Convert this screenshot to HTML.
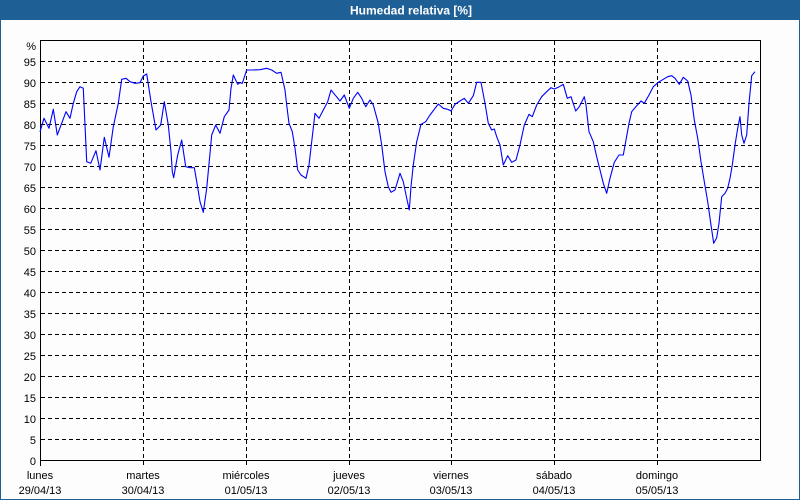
<!DOCTYPE html>
<html><head><meta charset="utf-8"><style>
html,body{margin:0;padding:0;background:#fff;}
svg{display:block;}
text{font-family:"Liberation Sans",Arial,sans-serif;}
</style></head><body>
<svg width="800" height="500" viewBox="0 0 800 500" xmlns="http://www.w3.org/2000/svg">
<rect x="0" y="0" width="800" height="500" fill="#fdfdfd"/>
<rect x="0" y="0" width="800" height="20" fill="#1e5f95"/>
<rect x="0" y="0" width="1" height="500" fill="#1e5f95"/>
<rect x="799" y="0" width="1" height="500" fill="#1e5f95"/>
<rect x="0" y="499" width="800" height="1" fill="#1e5f95"/>
<text x="350" y="14.5" font-size="12" font-weight="bold" fill="#ffffff">Humedad relativa [%]</text>

<g stroke="#000" stroke-width="1" stroke-dasharray="4,3" fill="none">
<line x1="41" y1="439.5" x2="760" y2="439.5"/>
<line x1="41" y1="418.5" x2="760" y2="418.5"/>
<line x1="41" y1="397.5" x2="760" y2="397.5"/>
<line x1="41" y1="376.5" x2="760" y2="376.5"/>
<line x1="41" y1="355.5" x2="760" y2="355.5"/>
<line x1="41" y1="334.5" x2="760" y2="334.5"/>
<line x1="41" y1="313.5" x2="760" y2="313.5"/>
<line x1="41" y1="292.5" x2="760" y2="292.5"/>
<line x1="41" y1="271.5" x2="760" y2="271.5"/>
<line x1="41" y1="250.5" x2="760" y2="250.5"/>
<line x1="41" y1="229.5" x2="760" y2="229.5"/>
<line x1="41" y1="208.5" x2="760" y2="208.5"/>
<line x1="41" y1="187.5" x2="760" y2="187.5"/>
<line x1="41" y1="166.5" x2="760" y2="166.5"/>
<line x1="41" y1="145.5" x2="760" y2="145.5"/>
<line x1="41" y1="124.5" x2="760" y2="124.5"/>
<line x1="41" y1="103.5" x2="760" y2="103.5"/>
<line x1="41" y1="82.5" x2="760" y2="82.5"/>
<line x1="41" y1="61.5" x2="760" y2="61.5"/>
<line x1="143.5" y1="41" x2="143.5" y2="466"/>
<line x1="246.5" y1="41" x2="246.5" y2="466"/>
<line x1="349.5" y1="41" x2="349.5" y2="466"/>
<line x1="451.5" y1="41" x2="451.5" y2="466"/>
<line x1="554.5" y1="41" x2="554.5" y2="466"/>
<line x1="657.5" y1="41" x2="657.5" y2="466"/>
</g>
<rect x="40.5" y="40.5" width="720" height="420" fill="none" stroke="#000" stroke-width="1"/>
<line x1="40.5" y1="40" x2="40.5" y2="466" stroke="#000" stroke-width="1"/>

<polyline fill="none" stroke="#0000ff" stroke-width="1.1" stroke-linejoin="round" points="
40,131.7 44,118.3 49,128.3 53.3,109.3 57.3,135 66,111.7 70,118.3 73.3,103.3 76.7,91.7 80,86.7 83.3,88.3 86.7,161.7 90.7,163.3 96,150.7 100,170 104.3,137.3 109,157.3 113.3,126.7 118.3,103.3 121.7,79.3 126,78.3 130,81.7 135,83.3 140,82.7 143.3,76 146.7,74 151,101.7 156,130 160.7,125 164.3,101.7
168.3,125 171,151.7 172.3,171.7 173.7,177.7 175,170 177.7,155 181.7,140 185.7,166.7 190,167.7 194.3,167.7 197.3,185 200,201.7 203.3,212.3 206.7,188.3 210,153.3 211.7,135 215.7,125 220,133.3 224.3,116.7 229,110 231,88.3 233.3,75 237.7,84.3 240,82.7 242.3,83.3 246.7,70 251.7,70 260,69.7 266.7,68.3 271.7,70 276.7,73.3 281,72.3
285,90 286.7,105 289,123.3 292.3,131.7 295,148.3 297.7,170 301,175 306,178.3 309,165 311.7,141.7 315,113.3 319,118.3 323.3,110 327.7,101.7 331,90 335.7,95.7 340,101 344.3,95 349.3,108.3 353.3,98.3 357.7,92.3 361.7,98.3 365.7,106.7 370,100 373.3,105 378.3,123.3 381.7,145 385,171.7 388.3,186.7 391,192.3 395,190 400,173.3 403.3,181.7 406.7,198.3 409.3,210
411,186.7 413.3,165 416.7,141.7 421,124.3 425.7,121.7 430,115 434.3,109.3 438.3,104 443.3,108.3 447.7,109.3 451,111 455,104.3 460,101 464.3,98.3 468.3,103.3 473.3,95.7 476.7,82.3 481,82.3 485,103.3 488.3,123.3 491.7,130 494.3,129 496.7,136.7 500,145 503.3,165 507.7,155.7 511.7,162.3 516,160 520,145 524.3,125
529,114.3 532.3,116.7 536.7,105 541.7,96.7 546.7,91.7 551,87.7 554.3,89 558.3,87.3 563.3,84.3 567.3,98.3 571,96.7 575.7,111 579.3,106.7 584.3,96.7 586,105 589,131.7 593.3,141.7 596.7,156.7 600,170 603.3,183.3 606.7,193.3 610,178.3 614.3,162.3 619,155 623.3,155 625.7,141.7 629,123.3 631.7,111.7 636.7,105.7 641,101 644.3,103.3
649,95 653.3,86.7 658.3,82.3 663.3,79.3 667.7,76.7 671.7,75.7 675,78.3 679.3,84.3 683.3,77.3 687.7,81 691,95 694.3,120 697.7,138.3 701,161.7 704.3,181.7 707.7,201.7 711,225 713.7,243.3 716.7,237.7 719,223.3 721.7,196.7 725,193.3 727.7,188.3 730,178.3 732.3,165 735,145 737.7,128.3 740,116.7 741.7,135 744,143.3 746.7,135 749,103.3 751.7,75.7 755,71.7"/>

<g font-size="11" fill="#000" text-anchor="end">
<text x="36" y="50">%</text>
<text x="36" y="66">95</text>
<text x="36" y="87">90</text>
<text x="36" y="108">85</text>
<text x="36" y="129">80</text>
<text x="36" y="150">75</text>
<text x="36" y="171">70</text>
<text x="36" y="192">65</text>
<text x="36" y="213">60</text>
<text x="36" y="234">55</text>
<text x="36" y="255">50</text>
<text x="36" y="276">45</text>
<text x="36" y="297">40</text>
<text x="36" y="318">35</text>
<text x="36" y="339">30</text>
<text x="36" y="360">25</text>
<text x="36" y="381">20</text>
<text x="36" y="402">15</text>
<text x="36" y="423">10</text>
<text x="36" y="444">5</text>
<text x="36" y="465">0</text>
</g>
<g font-size="11" fill="#000" text-anchor="middle">
<text x="40" y="479">lunes</text><text x="40" y="494">29/04/13</text>
<text x="143" y="479">martes</text><text x="143" y="494">30/04/13</text>
<text x="246" y="479">miércoles</text><text x="246" y="494">01/05/13</text>
<text x="349" y="479">jueves</text><text x="349" y="494">02/05/13</text>
<text x="451" y="479">viernes</text><text x="451" y="494">03/05/13</text>
<text x="554" y="479">sábado</text><text x="554" y="494">04/05/13</text>
<text x="657" y="479">domingo</text><text x="657" y="494">05/05/13</text>
</g>
</svg>
</body></html>
